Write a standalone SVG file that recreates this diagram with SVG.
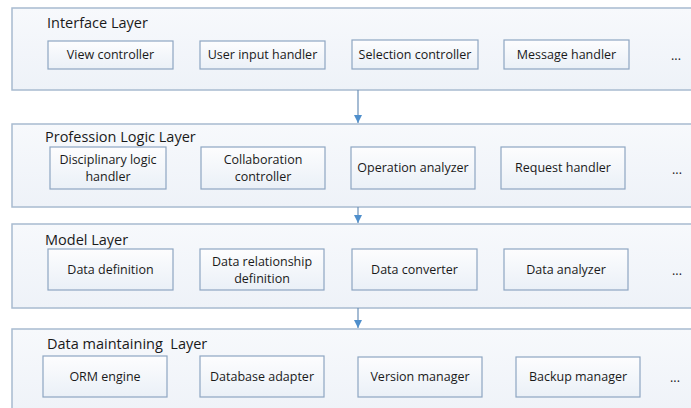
<svg xmlns="http://www.w3.org/2000/svg" width="691" height="408" viewBox="0 0 691 408">
<defs>
<linearGradient id="layerFill" x1="0" y1="0" x2="0" y2="1">
<stop offset="0" stop-color="#f7f9fc"/>
<stop offset="1" stop-color="#eef2f8"/>
</linearGradient>
<linearGradient id="boxFill" x1="0" y1="0" x2="0" y2="1">
<stop offset="0" stop-color="#fdfdfe"/>
<stop offset="1" stop-color="#eaf0f7"/>
</linearGradient>
<marker id="arrow" viewBox="0 0 10 10" refX="10" refY="5" markerWidth="8" markerHeight="8" markerUnits="userSpaceOnUse" orient="auto">
<path d="M0,0 L10,5 L0,10 Z" fill="#4f8fcc"/>
</marker>
<style>
.layer{fill:url(#layerFill);stroke:#a8bbd0;stroke-width:1.5}
.box{fill:url(#boxFill);stroke:#8ea6c2;stroke-width:1.2}
.title{font-family:"Open Sans","Liberation Sans",sans-serif;font-size:14.5px;fill:#1a1a1a;white-space:pre}
.lbl{font-family:"Open Sans","Liberation Sans",sans-serif;font-size:12.5px;fill:#1a1a1a;text-anchor:middle}
.conn{stroke:#6a8fb8;stroke-width:1.2;fill:none}
</style>
</defs>
<rect width="691" height="408" fill="#ffffff"/>

<g id="interface-layer">
<rect class="layer" x="12" y="8" width="690" height="82"/>
<text class="title" x="47" y="28">Interface Layer</text>
</g>
<g id="view-controller"><rect class="box" x="48" y="41" width="125" height="28"/><text class="lbl" x="110.5" y="59">View controller</text></g>
<g id="user-input-handler"><rect class="box" x="200" y="41" width="125" height="28"/><text class="lbl" x="262.5" y="59">User input handler</text></g>
<g id="selection-controller"><rect class="box" x="352" y="40" width="126" height="29"/><text class="lbl" x="415" y="59">Selection controller</text></g>
<g id="message-handler"><rect class="box" x="504" y="40" width="125" height="29"/><text class="lbl" x="566.5" y="59">Message handler</text></g>
<g id="interface-more"><text class="lbl" x="676" y="60">...</text></g>

<g id="profession-logic-layer">
<rect class="layer" x="12" y="124" width="690" height="83"/>
<text class="title" x="45" y="142">Profession Logic Layer</text>
</g>
<g id="disciplinary-logic-handler"><rect class="box" x="50" y="147" width="116" height="42"/><text class="lbl" x="108" y="164">Disciplinary logic</text><text class="lbl" x="108" y="181">handler</text></g>
<g id="collaboration-controller"><rect class="box" x="201" y="147" width="124" height="42"/><text class="lbl" x="263" y="164">Collaboration</text><text class="lbl" x="263" y="181">controller</text></g>
<g id="operation-analyzer"><rect class="box" x="351" y="147" width="124" height="42"/><text class="lbl" x="413" y="172">Operation analyzer</text></g>
<g id="request-handler"><rect class="box" x="501" y="147" width="124" height="42"/><text class="lbl" x="563" y="172">Request handler</text></g>
<g id="profession-more"><text class="lbl" x="677" y="174">...</text></g>

<g id="model-layer">
<rect class="layer" x="12" y="224" width="690" height="84"/>
<text class="title" x="45" y="245">Model Layer</text>
</g>
<g id="data-definition"><rect class="box" x="48" y="249" width="125" height="41"/><text class="lbl" x="110.5" y="274">Data definition</text></g>
<g id="data-relationship-definition"><rect class="box" x="200" y="249" width="124" height="41"/><text class="lbl" x="262" y="266">Data relationship</text><text class="lbl" x="262" y="283">definition</text></g>
<g id="data-converter"><rect class="box" x="352" y="249" width="125" height="41"/><text class="lbl" x="414.5" y="274">Data converter</text></g>
<g id="data-analyzer"><rect class="box" x="504" y="249" width="124" height="41"/><text class="lbl" x="566" y="274">Data analyzer</text></g>
<g id="model-more"><text class="lbl" x="677" y="275">...</text></g>

<g id="data-maintaining-layer">
<rect class="layer" x="12" y="329" width="690" height="90"/>
<text class="title" x="47" y="349">Data maintaining  Layer</text>
</g>
<g id="orm-engine"><rect class="box" x="43" y="356" width="124" height="41"/><text class="lbl" x="105" y="381">ORM engine</text></g>
<g id="database-adapter"><rect class="box" x="200" y="356" width="124" height="41"/><text class="lbl" x="262" y="381">Database adapter</text></g>
<g id="version-manager"><rect class="box" x="358" y="357" width="124" height="40"/><text class="lbl" x="420" y="381">Version manager</text></g>
<g id="backup-manager"><rect class="box" x="516" y="357" width="124" height="40"/><text class="lbl" x="578" y="381">Backup manager</text></g>
<g id="maintaining-more"><text class="lbl" x="675" y="382">...</text></g>

<g id="connectors">
<line class="conn" x1="358" y1="90" x2="358" y2="123" marker-end="url(#arrow)"/>
<line class="conn" x1="358" y1="207" x2="358" y2="223" marker-end="url(#arrow)"/>
<line class="conn" x1="358" y1="308" x2="358" y2="328" marker-end="url(#arrow)"/>
</g>
</svg>
